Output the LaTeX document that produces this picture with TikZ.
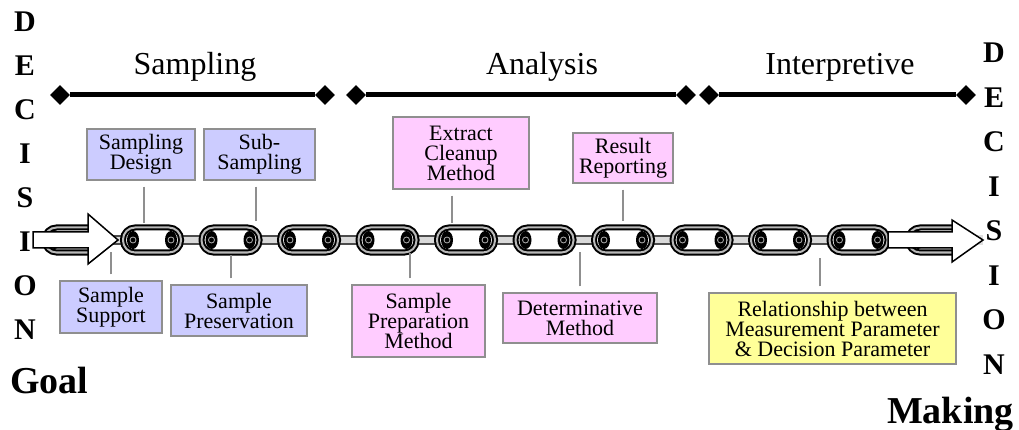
\documentclass[tikz,border=0pt]{standalone}
\usepackage{fontspec}
\setmainfont{Liberation Serif}
\usetikzlibrary{positioning,shapes.geometric}
\definecolor{sampblue}{HTML}{CCCCFF}
\definecolor{analpink}{HTML}{FFCCFF}
\definecolor{interpyellow}{HTML}{FFFF99}
\definecolor{rim}{HTML}{8F8F8F}
\newcommand{\boxfont}{\fontsize{22}{20}\selectfont}

\begin{document}
\begin{tikzpicture}[x=1pt, y=-1pt,
    letter/.style={font=\fontsize{30}{30}\selectfont\bfseries, inner sep=0pt},
    phase/.style={font=\fontsize{32}{32}\selectfont, anchor=base, inner sep=0pt},
    enddot/.style={diamond, fill=black, minimum size=20pt, inner sep=0pt},
    bar/.style={line width=5pt},
    task/.style={draw=rim, line width=1.5pt, rectangle, align=center, inner sep=0pt, font=\boxfont},
    stem/.style={draw=rim, line width=2.2pt, shorten <=6pt},
    flatlink/.style={draw=black, line width=1.4pt, fill=gray!30, rounded corners=4pt},
    ring/.style={draw=black, line width=6pt, fill=white, rounded corners=12pt},
    shine/.style={draw=gray!55, line width=2pt, rounded corners=12pt}]
    \useasboundingbox (0,0) rectangle (1019,430);

    % side words
    \foreach \ch [count=\i from 0] in {D,E,C,I,S,I,O,N}
        \node[letter] (l\i) at (25,22+44*\i) {\ch};
    \node[letter, font=\fontsize{38}{38}\selectfont\bfseries, anchor=base west] (goal) at (10,393) {Goal};
    \foreach \ch [count=\i from 0] in {D,E,C,I,S,I,O,N}
        \node[letter] (r\i) at (994,53+44.5*\i) {\ch};
    \node[letter, font=\fontsize{38}{38}\selectfont\bfseries, anchor=base east] (making) at (1014,423) {Making};

    % phases
    \node[phase] (samp) at (195,75) {Sampling};
    \node[phase] (anal) at (542,75) {Analysis};
    \node[phase] (interp) at (840,75) {Interpretive};
    \node[enddot] (s1) at (60,95) {};
    \node[enddot] (s2) at (325,95) {};
    \node[enddot] (a1) at (356,95) {};
    \node[enddot] (a2) at (686,95) {};
    \node[enddot] (i1) at (709,95) {};
    \node[enddot] (i2) at (966,95) {};
    \draw[bar] (s1) -- (s2);
    \draw[bar] (a1) -- (a2);
    \draw[bar] (i1) -- (i2);

    % chain
    \fill[gray!25] (33,235) rectangle (983,245);
    \foreach \c in {73.5,152,230.5,309,387.5,466,544.5,623,701.5,780,858.5}
        \draw[flatlink] (\c+14,236) rectangle (\c+64.5,244);
    \foreach \c in {73.5,152,230.5,309,387.5,466,544.5,623,701.5,780,858.5,937} {
        \draw[ring] (\c-29,227.5) rectangle (\c+29,252.5);
        \draw[shine] (\c-29,227.5) rectangle (\c+29,252.5);
        \fill (\c-19,240) ellipse (6 and 9);
        \fill (\c+19,240) ellipse (6 and 9);
        \draw[gray!60, line width=0.8pt] (\c-19,240) circle (3);
        \draw[gray!60, line width=0.8pt] (\c+19,240) circle (3);
    }
    \draw[fill=white, line width=1.5pt] (33,232) -- (88,232) -- (88,214) -- (118,240)
        -- (88,264) -- (88,248) -- (33,248) -- cycle;
    \draw[fill=white, line width=1.5pt] (888,232) -- (952,232) -- (952,220) -- (983,240)
        -- (952,262) -- (952,248) -- (888,248) -- cycle;

    % tasks
    \node[task, fill=sampblue, minimum width=108pt, minimum height=51pt] (sd) at (141,154.5) {Sampling\\Design};
    \node[task, fill=sampblue, minimum width=111pt, minimum height=51pt] (subs) at (259.5,154.5) {Sub-\\Sampling};
    \node[task, fill=analpink, minimum width=136pt, minimum height=72pt] (ecm) at (461,153) {Extract\\Cleanup\\Method};
    \node[task, fill=analpink, minimum width=100pt, minimum height=50pt] (rr) at (623,158) {Result\\Reporting};
    \node[task, fill=sampblue, minimum width=102pt, minimum height=52pt] (ss) at (111,307) {Sample\\Support};
    \node[task, fill=sampblue, minimum width=136pt, minimum height=51pt] (sp) at (239,310.5) {Sample\\Preservation};
    \node[task, fill=analpink, minimum width=133pt, minimum height=72pt] (spm) at (418.5,321) {Sample\\Preparation\\Method};
    \node[task, fill=analpink, minimum width=154pt, minimum height=50pt] (dm) at (580,318) {Determinative\\Method};
    \node[task, fill=interpyellow, minimum width=247pt, minimum height=71pt] (rel) at (832.5,328.5) {Relationship between\\Measurement Parameter\\\& Decision Parameter};

    % ties to the chain
    \coordinate (k1) at (144,223);
    \coordinate (k2) at (256,221);
    \coordinate (k3) at (452,223);
    \coordinate (k4) at (623,221);
    \coordinate (k5) at (111,252);
    \coordinate (k6) at (231,255);
    \coordinate (k7) at (410,253);
    \coordinate (k8) at (580,252);
    \coordinate (k9) at (820,258);
    \draw[stem] (k1 |- sd.south) -- (k1);
    \draw[stem] (k2 |- subs.south) -- (k2);
    \draw[stem] (k3 |- ecm.south) -- (k3);
    \draw[stem] (k4 |- rr.south) -- (k4);
    \draw[stem] (k5 |- ss.north) -- (k5);
    \draw[stem] (k6 |- sp.north) -- (k6);
    \draw[stem] (k7 |- spm.north) -- (k7);
    \draw[stem] (k8 |- dm.north) -- (k8);
    \draw[stem] (k9 |- rel.north) -- (k9);
\end{tikzpicture}
\end{document}
